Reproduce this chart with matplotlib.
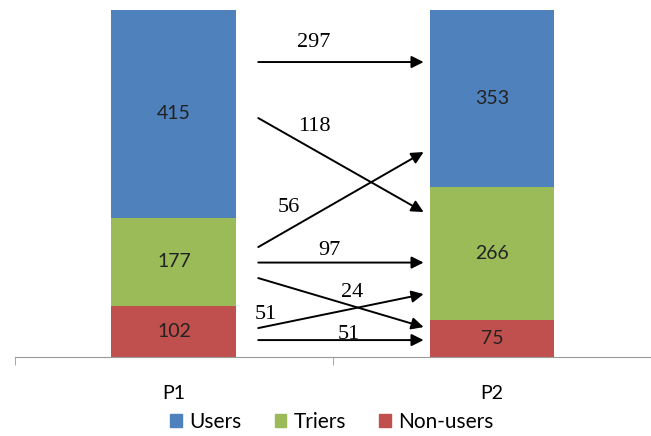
import matplotlib.pyplot as plt
from matplotlib.patches import Patch

periods = ['P1', 'P2']
users = [415, 353]
triers = [177, 266]
non_users = [102, 75]

# flows between periods: label, start height, end height (in bar units)
flow_labels = ['297', '118', '56', '97', '24', '51', '51']
flow_start = [590, 478, 220, 189, 158, 58, 34]
flow_end = [590, 290, 410, 189, 60, 126, 34]
label_x = [0.44, 0.44, 0.36, 0.49, 0.56, 0.29, 0.55]
label_y = [630, 462, 300, 214, 130, 86, 46]

BLUE = '#4F81BD'
GREEN = '#9BBB59'
RED = '#C0504D'

fig = plt.figure(figsize=(6.51, 4.36), dpi=100)
ax = fig.add_axes([0.023, 0.181, 0.977, 0.796])

x = range(len(periods))
ax.bar(x, non_users, width=0.393, color=RED)
ax.bar(x, triers, width=0.393, bottom=non_users, color=GREEN)
bottoms = [a + b for a, b in zip(non_users, triers)]
ax.bar(x, users, width=0.393, bottom=bottoms, color=BLUE)

# segment labels
for i in x:
    ax.text(i, non_users[i] / 2, str(non_users[i]), ha='center', va='center',
            fontsize=14, family='Lato', color='#222222')
    ax.text(i, non_users[i] + triers[i] / 2, str(triers[i]), ha='center', va='center',
            fontsize=14, family='Lato', color='#222222')
    ax.text(i, bottoms[i] + users[i] / 2, str(users[i]), ha='center', va='center',
            fontsize=14, family='Lato', color='#222222')

# flow arrows
x0, x1 = 0.265, 0.785
for lab, ys, ye, lx, ly in zip(flow_labels, flow_start, flow_end, label_x, label_y):
    ax.annotate('', xy=(x1, ye), xytext=(x0, ys),
                arrowprops=dict(arrowstyle='-|>', color='black', lw=1.4,
                                mutation_scale=18, shrinkA=0, shrinkB=0))
    ax.text(lx, ly, lab, ha='center', va='center', fontsize=16,
            family='Liberation Serif')

ax.set_xlim(-0.5, 1.5)
ax.set_ylim(0, 694)
for s in ['left', 'right', 'top']:
    ax.spines[s].set_visible(False)
ax.spines['bottom'].set_color('#9A9A9A')
ax.set_yticks([])
ax.set_xticks(list(x))
ax.set_xticklabels(periods, fontsize=14, family='Lato')
ax.tick_params(axis='x', length=0, pad=20)
ax.set_xticks([-0.5, 0.5, 1.5], minor=True)
ax.tick_params(axis='x', which='minor', length=6, color='#9A9A9A')

handles = [Patch(color=BLUE, label='Users'), Patch(color=GREEN, label='Triers'),
           Patch(color=RED, label='Non-users')]
fig.legend(handles=handles, loc='center', bbox_to_anchor=(0.51, 0.032), ncol=3,
           frameon=False, prop={'family': 'Lato', 'size': 15},
           handlelength=0.55, handleheight=0.55, handletextpad=0.35, columnspacing=1.6)

fig.savefig('out.png', dpi=100)
